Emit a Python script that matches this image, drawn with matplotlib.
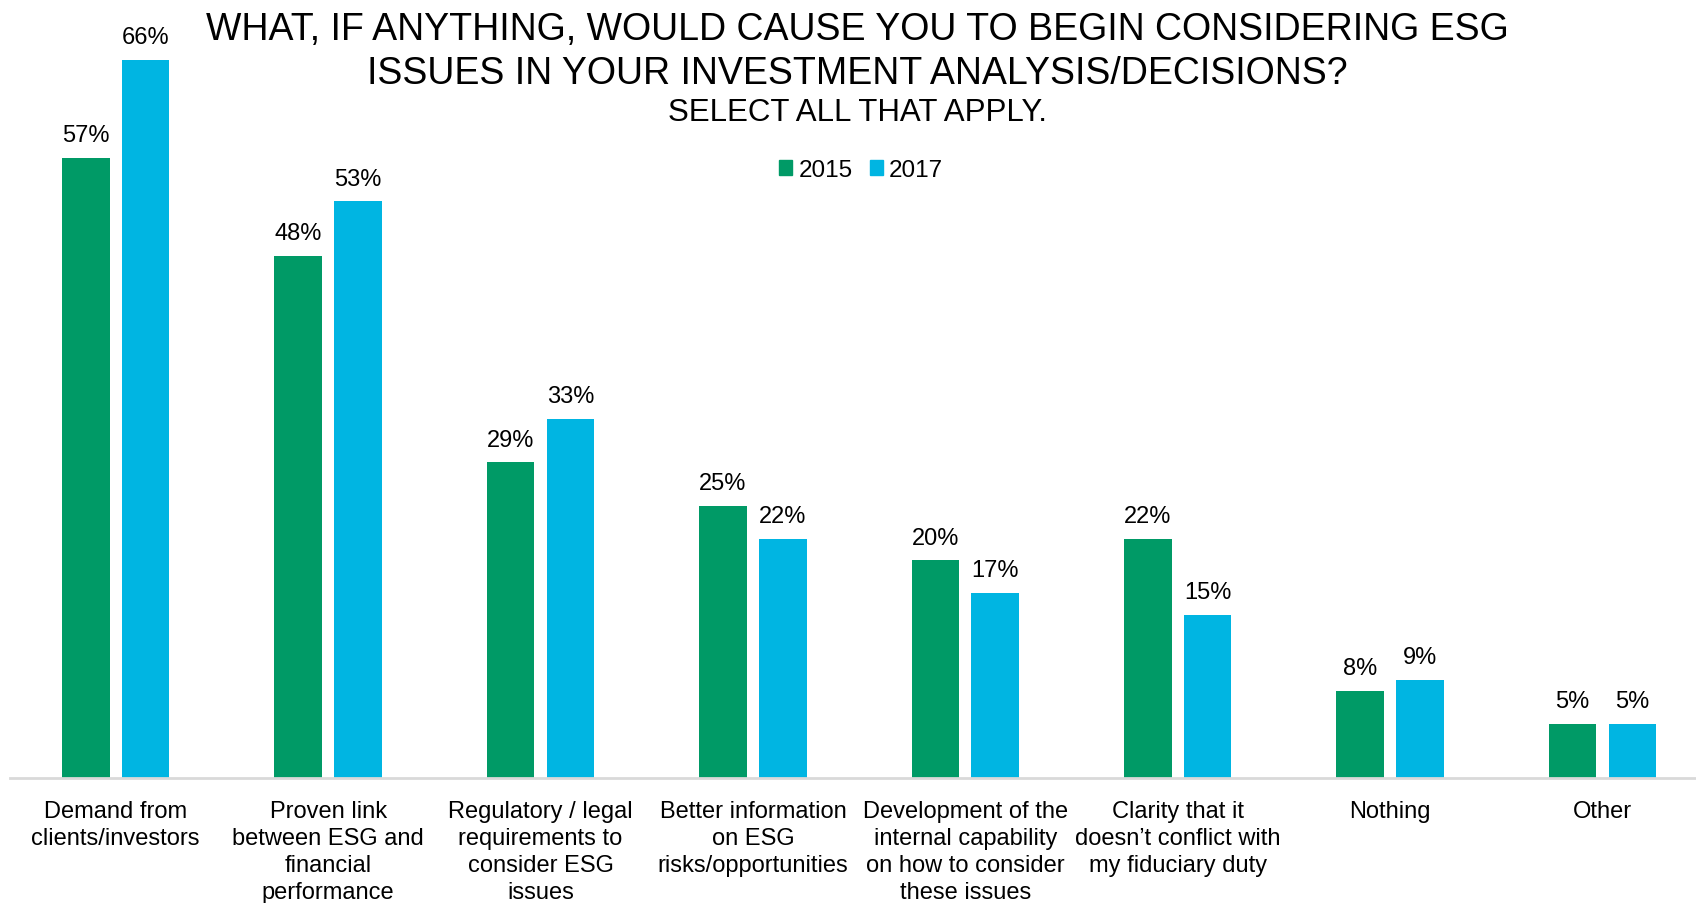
import numpy as np
import matplotlib
matplotlib.use('Agg')
import matplotlib.pyplot as plt
from matplotlib.patches import Patch

plt.rcParams['font.family'] = ['Liberation Sans', 'DejaVu Sans']

# survey answers, share of respondents (%)
categories = ['Demand from\nclients/investors',
              'Proven link\nbetween ESG and\nfinancial\nperformance',
              'Regulatory / legal\nrequirements to\nconsider ESG\nissues',
              'Better information\non ESG\nrisks/opportunities',
              'Development of the\ninternal capability\non how to consider\nthese issues',
              'Clarity that it\ndoesn\u2019t conflict with\nmy fiduciary duty',
              'Nothing',
              'Other']
y2015 = [57, 48, 29, 25, 20, 22, 8, 5]
y2017 = [66, 53, 33, 22, 17, 15, 9, 5]
years = ['2015', '2017']

green = '#009A66'
blue = '#00B5E2'

W, H = 1696, 904
fig = plt.figure(figsize=(W/100, H/100), dpi=100)

# axes: baseline at y=779px, first group centre at x=115.7px, 212.4px per group
left = 9.5/W
bottom = (H - 779)/H
ax = fig.add_axes([left, bottom, 1 - left, 1 - bottom])

x = np.arange(len(categories))
w = 0.224
off = 0.141
b1 = ax.bar(x - off, y2015, w, color=green)
b2 = ax.bar(x + off, y2017, w, color=blue)

for bars, vals in ((b1, y2015), (b2, y2017)):
    for r, v in zip(bars, vals):
        ax.annotate('%d%%' % v, (r.get_x() + r.get_width()/2, v),
                    xytext=(0, 8.5), textcoords='offset points',
                    ha='center', va='bottom', fontsize=17)

ax.set_xlim(-0.5, -0.5 + (W - 9.5)/212.4)
ax.set_ylim(0, 779/10.88)
ax.set_xticks(x)
ax.set_xticklabels(categories, fontsize=17, linespacing=1.31)
ax.tick_params(axis='x', length=0, pad=15.5)
ax.set_yticks([])
for s in ['top', 'right', 'left']:
    ax.spines[s].set_visible(False)
ax.spines['bottom'].set_color('#D9D9D9')
ax.spines['bottom'].set_linewidth(2)
ax.patch.set_alpha(0)

cx = 857/W
fig.text(cx, 1 - 30/H, 'WHAT, IF ANYTHING, WOULD CAUSE YOU TO BEGIN CONSIDERING ESG',
         ha='center', va='center', fontsize=27)
fig.text(cx, 1 - 74/H, 'ISSUES IN YOUR INVESTMENT ANALYSIS/DECISIONS?',
         ha='center', va='center', fontsize=27)
fig.text(cx, 1 - 113/H, 'SELECT ALL THAT APPLY.',
         ha='center', va='center', fontsize=22.5)

handles = [Patch(color=green), Patch(color=blue)]
fig.legend(handles, years, loc='center', bbox_to_anchor=(861/W, 1 - 171/H),
           ncol=2, frameon=False, fontsize=17.5, handlelength=0.55, handleheight=0.55,
           handletextpad=0.25, columnspacing=0.7)

fig.savefig('out.png', dpi=100)
